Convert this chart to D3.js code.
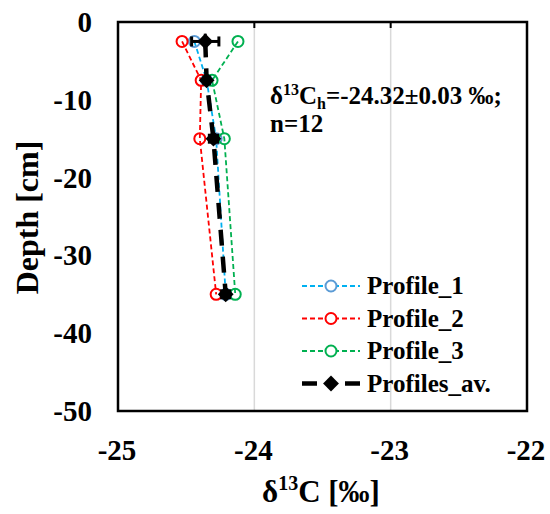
<!DOCTYPE html>
<html>
<head>
<meta charset="utf-8">
<script src="https://cdn.jsdelivr.net/npm/d3@7"></script>
<style>
  body { margin: 0; background: #fff; }
  text { font-family: "Liberation Serif", "Times New Roman", serif; font-weight: bold; }
</style>
</head>
<body>
<script>
'use strict';

// depth of each sampling level [cm]
const depths = [-2.5, -7.5, -15, -35];

// d13C per profile [permil]
const profile1 = [-24.44, -24.35, -24.28, -24.21];
const profile2 = [-24.53, -24.39, -24.40, -24.28];
const profile3 = [-24.12, -24.31, -24.22, -24.14];
const profilesAv = [-24.36, -24.35, -24.30, -24.21];
const avXErr = [0.10, 0.02, 0.03, 0.03];
const avYErr = [1.0, 0.4, 0.4, 0.8];

const xTicks = [-25, -24, -23, -22];
const yTicks = [0, -10, -20, -30, -40, -50];
const legendLabels = ['Profile_1', 'Profile_2', 'Profile_3', 'Profiles_av.'];

(function () {
    const W = 550, H = 514;
    const m = { left: 118, right: 527, top: 22, bottom: 411 };

    const svg = d3.select('body').append('svg')
        .attr('width', W)
        .attr('height', H);

    const x = d3.scaleLinear().domain([-25, -22]).range([m.left, m.right]);
    const y = d3.scaleLinear().domain([0, -50]).range([m.top, m.bottom]);

    // gridlines
    svg.append('g').selectAll('line')
        .data([-24, -23])
        .enter().append('line')
        .attr('x1', d => x(d)).attr('x2', d => x(d))
        .attr('y1', m.top).attr('y2', m.bottom)
        .attr('stroke', '#d9d9d9')
        .attr('stroke-width', 1.5);

    // frame
    svg.append('rect')
        .attr('x', m.left).attr('y', m.top)
        .attr('width', m.right - m.left).attr('height', m.bottom - m.top)
        .attr('fill', 'none')
        .attr('stroke', '#000')
        .attr('stroke-width', 2.5);

    // x ticks at the top (axis crosses at 0)
    svg.append('g').selectAll('line')
        .data(xTicks.slice(1, 3))
        .enter().append('line')
        .attr('x1', d => x(d)).attr('x2', d => x(d))
        .attr('y1', m.top).attr('y2', m.top + 6)
        .attr('stroke', '#000').attr('stroke-width', 2);

    // tick labels
    svg.append('g').selectAll('text')
        .data(xTicks)
        .enter().append('text')
        .attr('x', d => x(d) - 1)
        .attr('y', 460)
        .attr('text-anchor', 'middle')
        .attr('font-size', 29)
        .text(d => String(d));

    svg.append('g').selectAll('text')
        .data(yTicks)
        .enter().append('text')
        .attr('x', 92)
        .attr('y', d => y(d) + 10)
        .attr('text-anchor', 'end')
        .attr('font-size', 29)
        .text(d => String(d));

    // axis titles
    const xt = svg.append('text')
        .attr('x', 321).attr('y', 502)
        .attr('text-anchor', 'middle')
        .attr('font-size', 31);
    xt.append('tspan').text('δ');
    xt.append('tspan').attr('font-size', 20).attr('dy', -12).text('13');
    xt.append('tspan').attr('dy', 12).text('C [‰]');

    svg.append('text')
        .attr('transform', 'translate(38,' + ((m.top + m.bottom) / 2 + 1) + ') rotate(-90)')
        .attr('text-anchor', 'middle')
        .attr('font-size', 32)
        .text('Depth [cm]');

    // profiles
    const series = [
        { vals: profile1, line: '#00b0f0', mark: '#5b9bd5' },
        { vals: profile2, line: '#ff0000', mark: '#ff0000' },
        { vals: profile3, line: '#00b050', mark: '#00b050' }
    ];

    const line = d3.line()
        .x(d => x(d[0]))
        .y(d => y(d[1]));

    series.forEach(s => {
        const pts = s.vals.map((v, i) => [v, depths[i]]);
        svg.append('path')
            .datum(pts)
            .attr('d', line)
            .attr('fill', 'none')
            .attr('stroke', s.line)
            .attr('stroke-width', 1.8)
            .attr('stroke-dasharray', '5,3');
        svg.append('g').selectAll('circle')
            .data(pts)
            .enter().append('circle')
            .attr('cx', d => x(d[0]))
            .attr('cy', d => y(d[1]))
            .attr('r', 5.5)
            .attr('fill', 'none')
            .attr('stroke', s.mark)
            .attr('stroke-width', 2);
    });

    // average profile
    const avPts = profilesAv.map((v, i) => [v, depths[i]]);
    svg.append('path')
        .datum(avPts)
        .attr('d', line)
        .attr('fill', 'none')
        .attr('stroke', '#000')
        .attr('stroke-width', 4.5)
        .attr('stroke-dasharray', '16,11');

    const eb = svg.append('g').attr('stroke', '#000').attr('stroke-width', 3);
    avPts.forEach((p, i) => {
        const cx = x(p[0]), cy = y(p[1]);
        eb.append('line')
            .attr('x1', x(p[0] - avXErr[i])).attr('x2', x(p[0] + avXErr[i]))
            .attr('y1', cy).attr('y2', cy);
        [-1, 1].forEach(s => {
            eb.append('line')
                .attr('x1', x(p[0] + s * avXErr[i])).attr('x2', x(p[0] + s * avXErr[i]))
                .attr('y1', cy - 5).attr('y2', cy + 5);
        });
        eb.append('line')
            .attr('x1', cx).attr('x2', cx)
            .attr('y1', y(p[1] + avYErr[i])).attr('y2', y(p[1] - avYErr[i]));
    });

    const diamond = d3.symbol().type(d3.symbolDiamond2).size(160);
    svg.append('g').selectAll('path')
        .data(avPts)
        .enter().append('path')
        .attr('d', diamond)
        .attr('transform', d => 'translate(' + x(d[0]) + ',' + y(d[1]) + ')')
        .attr('fill', '#000');

    // annotation
    const ann = svg.append('text')
        .attr('x', 270).attr('y', 104)
        .attr('font-size', 25);
    ann.append('tspan').text('δ');
    ann.append('tspan').attr('font-size', 16).attr('dy', -9).text('13');
    ann.append('tspan').attr('dy', 9).text('C');
    ann.append('tspan').attr('font-size', 16).attr('dy', 5).text('h');
    ann.append('tspan').attr('dy', -5).text('=-24.32±0.03 ‰;');
    svg.append('text')
        .attr('x', 270).attr('y', 132)
        .attr('font-size', 25)
        .text('n=12');

    // legend
    const lg = svg.append('g');
    const rowY = d3.scalePoint().domain(legendLabels).range([286, 383.5]);
    const legStyle = [
        { line: '#00b0f0', mark: '#5b9bd5' },
        { line: '#ff0000', mark: '#ff0000' },
        { line: '#00b050', mark: '#00b050' }
    ];
    legendLabels.forEach((lab, i) => {
        const ry = rowY(lab);
        if (i < 3) {
            lg.append('line')
                .attr('x1', 302).attr('x2', 360).attr('y1', ry).attr('y2', ry)
                .attr('stroke', legStyle[i].line)
                .attr('stroke-width', 1.8)
                .attr('stroke-dasharray', '5,3');
            lg.append('circle')
                .attr('cx', 331).attr('cy', ry).attr('r', 5.5)
                .attr('fill', '#fff')
                .attr('stroke', legStyle[i].mark)
                .attr('stroke-width', 2);
        } else {
            lg.append('line')
                .attr('x1', 302).attr('x2', 360).attr('y1', ry).attr('y2', ry)
                .attr('stroke', '#000')
                .attr('stroke-width', 4.5)
                .attr('stroke-dasharray', '15,28');
            lg.append('path')
                .attr('d', diamond)
                .attr('transform', 'translate(331,' + ry + ')')
                .attr('fill', '#000');
        }
        lg.append('text')
            .attr('x', 367).attr('y', ry + 8)
            .attr('font-size', 25)
            .text(lab);
    });
})();
</script>
</body>
</html>
